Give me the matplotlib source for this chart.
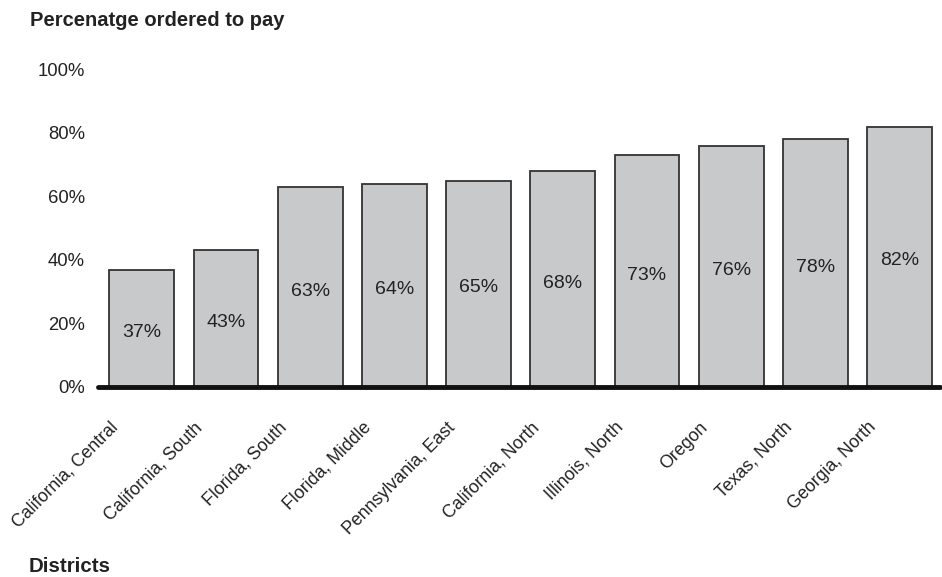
import matplotlib.pyplot as plt
import numpy as np
from matplotlib.transforms import ScaledTranslation

plt.rcParams['font.family'] = ['Liberation Sans', 'DejaVu Sans']

districts = ['California, Central', 'California, South', 'Florida, South',
             'Florida, Middle', 'Pennsylvania, East', 'California, North',
             'Illinois, North', 'Oregon', 'Texas, North', 'Georgia, North']
pct_ordered = [37, 43, 63, 64, 65, 68, 73, 76, 78, 82]
y_ticks = [0, 20, 40, 60, 80, 100]

fig = plt.figure(figsize=(9.42, 5.77), dpi=100)
ax = fig.add_axes([0.104, 0.3293, 0.894, 0.5503])

x = np.arange(len(districts))
ax.bar(x, pct_ordered, width=0.77, color='#c8c9cb', edgecolor='#333333',
       linewidth=1.3, zorder=2)

# value labels sit near the middle of each bar
for xi, v in zip(x, pct_ordered):
    ax.text(xi, v / 2 - 1.3, f'{v}%', ha='center', va='center', fontsize=14,
            color='#222222')

ax.set_xlim(-0.52, 9.48)
ax.set_ylim(0, 100)
ax.set_yticks(y_ticks)
ax.set_yticklabels([f'{t}%' for t in y_ticks], fontsize=13.3, color='#222222')
ax.tick_params(axis='y', length=0, pad=9.5)

ax.set_xticks(x)
ax.set_xticklabels(districts, rotation=45, ha='right', rotation_mode='anchor',
                   fontsize=12.8, color='#222222')
ax.tick_params(axis='x', length=0, pad=23)
offset = ScaledTranslation(-23 / 72, 0, fig.dpi_scale_trans)
for lab in ax.get_xticklabels():
    lab.set_transform(lab.get_transform() + offset)

for s in ['top', 'right', 'left']:
    ax.spines[s].set_visible(False)
ax.spines['bottom'].set_linewidth(3.5)
ax.spines['bottom'].set_color('#111111')
ax.spines['bottom'].set_capstyle('round')
ax.spines['bottom'].set_zorder(3)

fig.text(0.032, 0.965, 'Percenatge ordered to pay', fontsize=14.5,
         fontweight='bold', color='#222222', va='center')
fig.text(0.030, 0.018, 'Districts', fontsize=14.8, fontweight='bold',
         color='#222222', va='center')

fig.savefig('out.png', dpi=100)
